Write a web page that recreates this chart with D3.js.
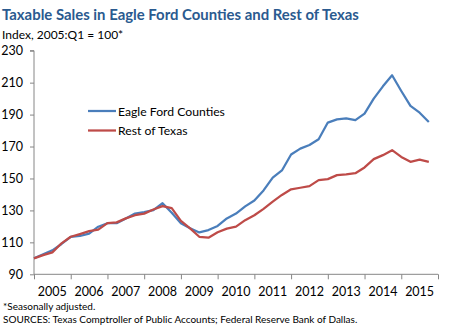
<!DOCTYPE html>
<html>
<head>
<meta charset="utf-8">
<script src="https://cdn.jsdelivr.net/npm/d3@7"></script>
<style>
  body { margin: 0; background: #fff; }
  text { font-family: Lato, "Open Sans", sans-serif; }
</style>
</head>
<body>
<div id="chart"></div>
<script>
// quarterly index, 2005:Q1 .. 2015:Q4
const eagleFord = [100, 102.5, 105, 109, 113.5, 114, 115.5, 119.8, 122, 122, 125, 128,
  129, 130.2, 134.5, 128.5, 122, 118.8, 116.2, 117.7, 120.3, 125, 128, 132.5,
  136.2, 142.5, 150.5, 155, 165, 168.7, 171, 174.6, 185, 187, 187.6, 186.5,
  190.6, 200, 207.7, 214.6, 204.8, 195.4, 191.2, 185.4];
const restOfTexas = [100, 102, 103.7, 109.4, 113.5, 115.2, 117, 118, 122, 122.5, 125, 127,
  128, 130.6, 132.7, 131.4, 123.5, 118.8, 113.5, 112.9, 116.3, 118.6, 119.8, 123.9,
  127, 131, 135.5, 139.7, 143.2, 144.2, 145.2, 149, 149.6, 152.1, 152.6, 153.3,
  156.9, 162.1, 164.6, 167.7, 163.5, 160.4, 161.8, 160.4];
const years = ['2005', '2006', '2007', '2008', '2009', '2010', '2011', '2012', '2013', '2014', '2015'];
const yTicks = [90, 110, 130, 150, 170, 190, 210, 230];
const seriesNames = ['Eagle Ford Counties', 'Rest of Texas'];

const width = 460, height = 331;
const colors = ['#4a7ebb', '#be4b48'];
const axisColor = '#868686';

const svg = d3.select('#chart').append('svg')
  .attr('width', width)
  .attr('height', height);

const x = d3.scaleLinear().domain([0, years.length * 4]).range([34, 438]);
const y = d3.scaleLinear().domain([90, 230]).range([274.3, 50.7]);

// titolo
svg.append('text')
  .attr('x', 2).attr('y', 20)
  .attr('fill', '#2a5a8f')
  .style('font-size', '14.9px')
  .style('font-weight', 'bold')
  .text('Taxable Sales in Eagle Ford Counties and Rest of Texas');

svg.append('text')
  .attr('x', 2).attr('y', 39)
  .attr('fill', '#000')
  .style('font-size', '12px')
  .text('Index, 2005:Q1 = 100*');

// asse y
const yAxis = svg.append('g')
  .attr('transform', 'translate(34,0)')
  .call(d3.axisLeft(y).tickValues(yTicks).tickSize(4).tickPadding(7));
yAxis.selectAll('path, line').attr('stroke', axisColor);
yAxis.select('.domain').attr('d', `M-4,${y(230)}H0V${y(90)}`);
yAxis.selectAll('text')
  .attr('fill', '#000')
  .style('font-size', '12.5px')
  .style('font-family', 'Lato, "Open Sans", sans-serif');

// asse x
const xAxis = svg.append('g')
  .attr('transform', `translate(0,${y(90)})`)
  .call(d3.axisBottom(x).tickValues(d3.range(0, years.length * 4 + 1, 4)).tickSize(5).tickFormat(''));
xAxis.selectAll('path, line').attr('stroke', axisColor);
xAxis.select('.domain').attr('d', `M${x(0)},0H${x(years.length * 4)}`);

svg.append('g').selectAll('text')
  .data(years)
  .join('text')
  .attr('x', (d, i) => x(i * 4 + 2))
  .attr('y', y(90) + 22)
  .attr('text-anchor', 'middle')
  .attr('fill', '#000')
  .style('font-size', '12.5px')
  .text(d => d);

// linee
const line = d3.line()
  .x((d, i) => x(i))
  .y(d => y(d));

[eagleFord, restOfTexas].forEach((s, k) => {
  svg.append('path')
    .datum(s)
    .attr('fill', 'none')
    .attr('stroke', colors[k])
    .attr('stroke-width', 2.25)
    .attr('stroke-linejoin', 'round')
    .attr('d', line);
});

// legenda
seriesNames.forEach((name, k) => {
  const ly = 111 + k * 19.5;
  svg.append('line')
    .attr('x1', 88).attr('x2', 116)
    .attr('y1', ly).attr('y2', ly)
    .attr('stroke', colors[k])
    .attr('stroke-width', 2.25);
  svg.append('text')
    .attr('x', 118).attr('y', ly + 4.5)
    .attr('fill', '#000')
    .style('font-size', '12.2px')
    .text(name);
});

// note
svg.append('text')
  .attr('x', 3).attr('y', 310)
  .attr('fill', '#000')
  .style('font-size', '10px')
  .text('*Seasonally adjusted.');

svg.append('text')
  .attr('x', 3).attr('y', 323)
  .attr('fill', '#000')
  .style('font-size', '10px')
  .text('SOURCES: Texas Comptroller of Public Accounts; Federal Reserve Bank of Dallas.');
</script>
</body>
</html>
